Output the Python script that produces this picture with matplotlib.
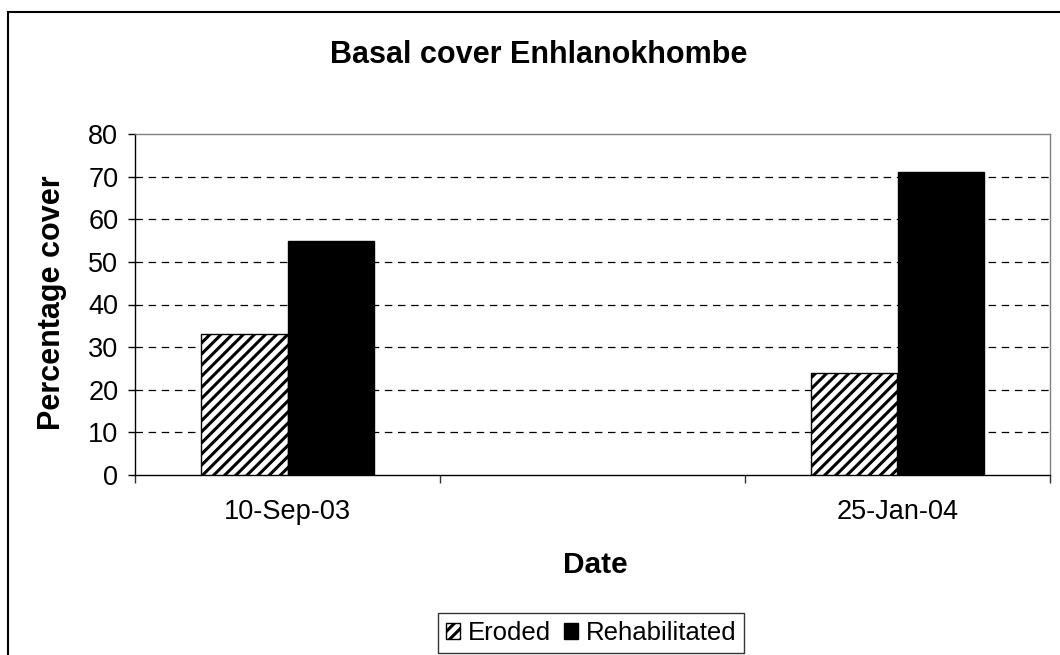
import matplotlib
matplotlib.use('Agg')
import matplotlib.pyplot as plt
import numpy as np

# categorias del eje (la del medio va vacia, como en el original)
dates = ['10-Sep-03', '', '25-Jan-04']
eroded = [33, np.nan, 24]
rehabilitated = [55, np.nan, 71]
y_ticks = [0, 10, 20, 30, 40, 50, 60, 70, 80]

plt.rcParams['font.family'] = ['Liberation Sans', 'DejaVu Sans']
plt.rcParams['hatch.linewidth'] = 2.2
plt.rcParams['hatch.color'] = 'black'

fig = plt.figure(figsize=(10.6, 6.55), dpi=100)
ax = fig.add_axes([135 / 1060, 1 - 475 / 655, 915 / 1060, 341 / 655])

x = np.arange(len(dates))
w = 0.285
ax.bar(x - w / 2, eroded, w, color='white', edgecolor='black', hatch='///',
       linewidth=1.0, label='Eroded', zorder=3)
ax.bar(x + w / 2, rehabilitated, w, color='black', edgecolor='black',
       linewidth=1.0, label='Rehabilitated', zorder=3)

ax.set_xlim(-0.5, len(dates) - 0.5)
ax.set_ylim(0, 80)
ax.set_yticks(y_ticks)
ax.tick_params(axis='y', direction='out', length=5, width=1, pad=7, labelsize=19.5)

# ticks mayores en los limites de categoria, etiquetas en el centro
ax.set_xticks(np.arange(len(dates) + 1) - 0.5)
ax.set_xticklabels([])
ax.set_xticks(x, minor=True)
ax.set_xticklabels(dates, minor=True)
ax.tick_params(axis='x', which='major', direction='out', length=6, width=1, color='#333333')
ax.tick_params(axis='x', which='minor', length=0, pad=17, labelsize=19.5)

for v in y_ticks[1:-1]:
    ax.axhline(v, color='black', linewidth=0.9, linestyle=(0, (6, 4.5)), zorder=1)

ax.spines['left'].set_color('black')
ax.spines['bottom'].set_color('black')
ax.spines['top'].set_color('#808080')
ax.spines['right'].set_color('#808080')
for s in ax.spines.values():
    s.set_linewidth(1.0)

fig.text(539 / 1060, 1 - 55 / 655, 'Basal cover Enhlanokhombe', ha='center', va='center',
         fontsize=22, fontweight='bold')
fig.text(52 / 1060, 1 - 303 / 655, 'Percentage cover', ha='center', va='center',
         rotation=90, fontsize=22, fontweight='bold')
fig.text(595 / 1060, 1 - 565 / 655, 'Date', ha='center', va='center',
         fontsize=21.5, fontweight='bold')

leg = fig.legend(loc='center', bbox_to_anchor=(591 / 1060, 1 - 633 / 655), ncol=2,
                 fontsize=18.5, frameon=True, fancybox=False, handlelength=0.55,
                 handleheight=0.55, handletextpad=0.3, columnspacing=0.5,
                 borderpad=0.3, borderaxespad=0)
leg.get_frame().set_edgecolor('black')
leg.get_frame().set_linewidth(1.0)

# borde del grafico (sale del recorte por la derecha y abajo)
fig.patches.append(plt.Rectangle((8 / 1060, -0.05), 1.1, 1 - 12 / 655 + 0.05,
                                 transform=fig.transFigure, fill=False,
                                 edgecolor='black', linewidth=1.5))

fig.savefig('out.png', dpi=100)
